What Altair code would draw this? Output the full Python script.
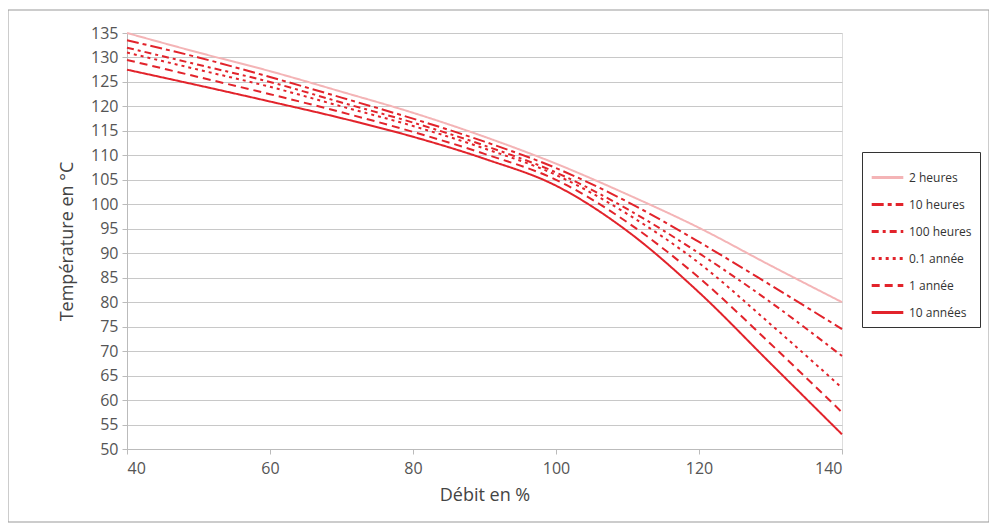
import altair as alt
import pandas as pd

debit = [40, 50, 60, 70, 80, 90, 100, 110, 120, 130, 140]
series = ["2 heures", "10 heures", "100 heures", "0.1 année", "1 année", "10 années"]
h2 = [135, 131, 127.2, 123, 118.7, 113.8, 108.3, 102, 95.2, 87.5, 80]
h10 = [133.5, 130, 126, 121.8, 117.5, 112.8, 107.4, 100.5, 92.3, 83.5, 74.5]
h100 = [132, 128.5, 125, 120.8, 116.7, 112, 106.5, 99, 90, 80, 69]
a01 = [131, 127.5, 124, 120, 116, 111.4, 106, 98, 88, 75.5, 62.5]
a1 = [129.5, 126, 122.5, 118.8, 114.8, 110.3, 105, 96.3, 85, 71.5, 57.5]
a10 = [127.5, 124.3, 121, 117.6, 113.8, 109.3, 103.8, 94.5, 82, 67.5, 53]
y_ticks = list(range(50, 140, 5))
x_ticks = [40, 60, 80, 100, 120, 140]

rows = []
for name, vals in zip(series, [h2, h10, h100, a01, a1, a10]):
    for xv, yv in zip(debit, vals):
        rows.append({"Série": name, "Débit": xv, "Temp": yv})
df = pd.DataFrame(rows)

colors = ["#f4b4b6", "#e2232b", "#e2232b", "#e2232b", "#e2232b", "#e2232b"]
dashes = [[1, 0], [12, 4, 4, 4], [7, 4, 3, 4], [3, 4], [8, 5], [1, 0]]

FONT = "Open Sans"

def leg():
    return alt.Legend(title=None, orient="none", legendX=735, legendY=119,
                      symbolType="stroke", symbolSize=1000, symbolStrokeWidth=3,
                      labelFontSize=12, labelFont=FONT, labelColor="#333333",
                      rowPadding=3, padding=8, strokeColor="#333333",
                      fillColor="white", labelLimit=200, labelOffset=4)

lines = alt.Chart(df).mark_line(strokeWidth=2, interpolate="monotone").encode(
    x=alt.X("Débit:Q", scale=alt.Scale(domain=[40, 140], nice=False),
            axis=alt.Axis(values=x_ticks, title="Débit en %", grid=False,
                          tickSize=5, tickColor="#bbbbbb", domainColor="#bbbbbb",
                          labelFontSize=16, labelColor="#555555", labelPadding=6,
                          titleFontSize=18, titleFontWeight="normal", titleColor="#444444",
                          titlePadding=10, labelFont=FONT, titleFont=FONT)),
    y=alt.Y("Temp:Q", scale=alt.Scale(domain=[50, 135], nice=False, zero=False),
            axis=alt.Axis(values=y_ticks + [135], title="Température en °C", grid=True,
                          gridColor="#c8c8c8", tickSize=5, tickColor="#bbbbbb",
                          domainColor="#bbbbbb", labelFontSize=16, labelColor="#555555",
                          labelPadding=4, titleFontSize=18, titleFontWeight="normal",
                          titleColor="#444444", titlePadding=14, labelFont=FONT, titleFont=FONT)),
    color=alt.Color("Série:N", scale=alt.Scale(domain=series, range=colors), legend=leg()),
    strokeDash=alt.StrokeDash("Série:N", scale=alt.Scale(domain=series, range=dashes),
                              legend=leg()),
)

border = alt.Chart(pd.DataFrame({"a": [0]})).mark_rect(
    fill=None, stroke="#999999", strokeWidth=1, clip=False
).encode(x=alt.value(-119), x2=alt.value(862), y=alt.value(-23), y2=alt.value(489))

chart = alt.layer(border, lines).properties(
    width=715, height=416,
    autosize=alt.AutoSizeParams(type="none"),
    padding={"left": 119, "top": 25, "right": 147, "bottom": 74},
).configure_view(stroke=None).configure(background="white")

chart.save("out.html", embed_options={"renderer": "svg", "actions": False})
